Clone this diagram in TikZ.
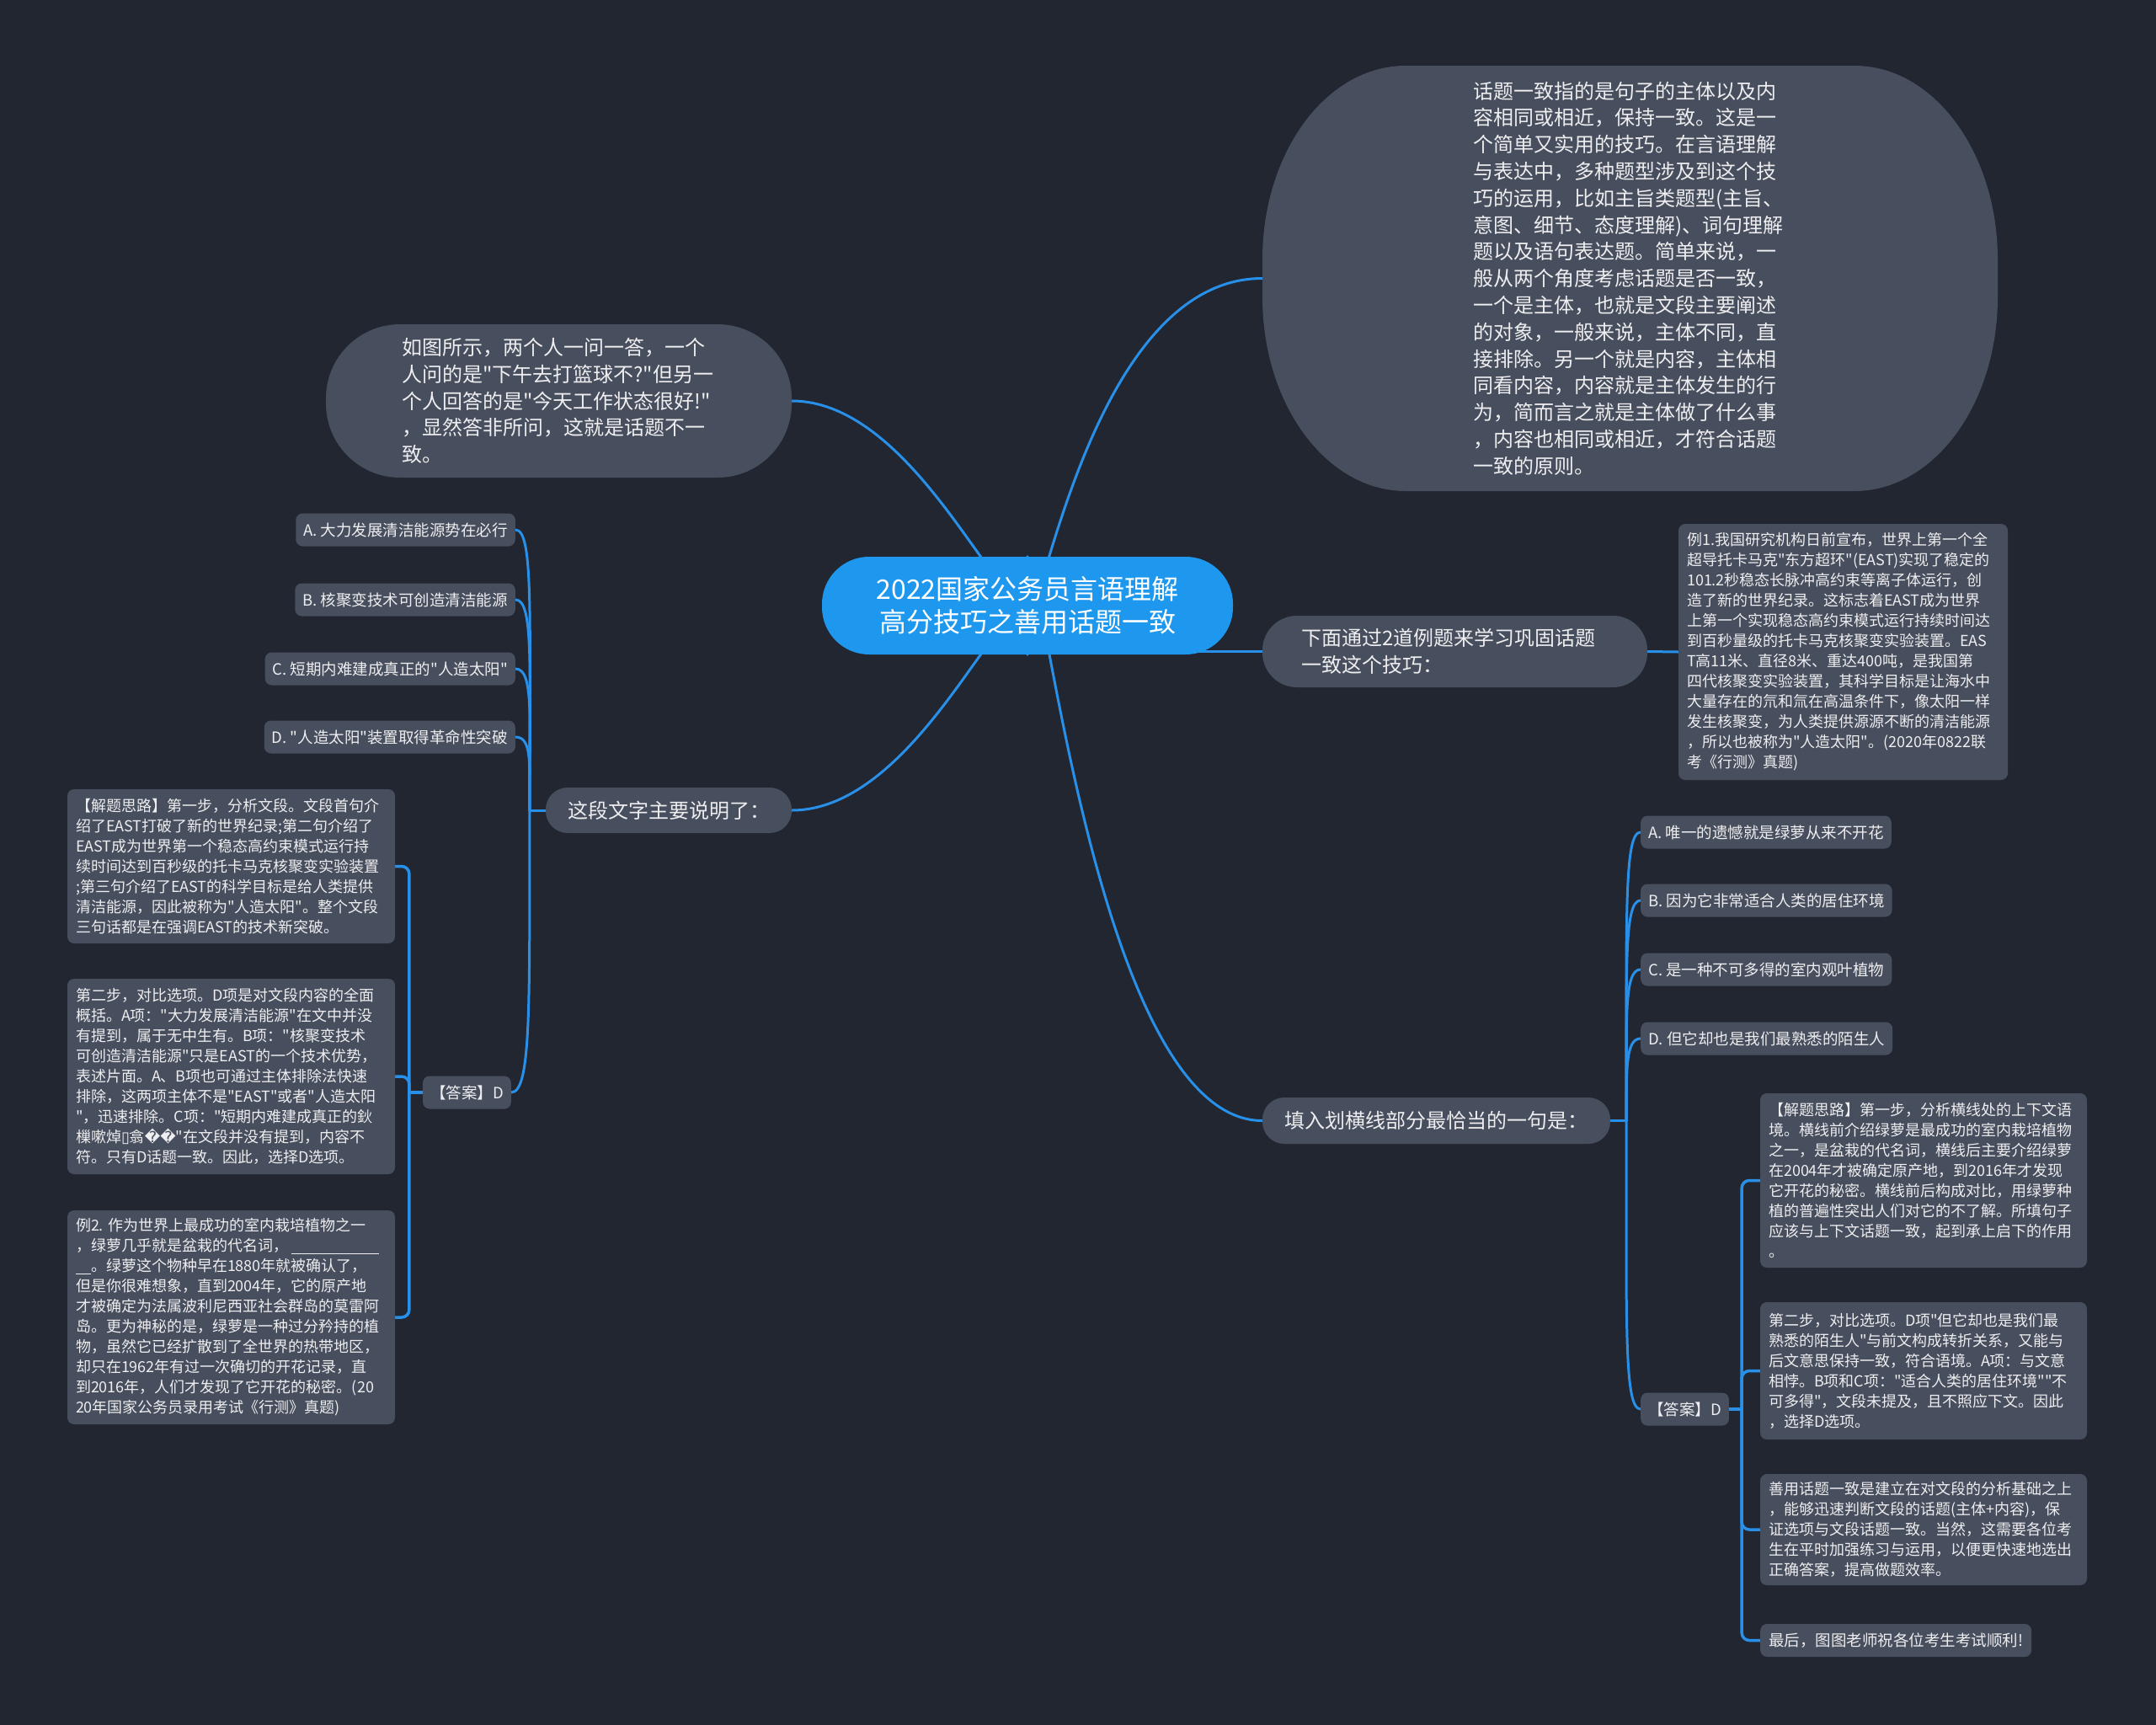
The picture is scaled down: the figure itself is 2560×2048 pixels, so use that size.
\documentclass[tikz,border=0pt]{standalone}
\usepackage{fontspec}
\newfontfamily\cjk{Noto Sans CJK SC}
\newfontfamily\djv{DejaVu Sans}
\usetikzlibrary{calc}
\definecolor{bgc}{RGB}{34,38,49}
\definecolor{nodec}{RGB}{71,78,93}
\definecolor{bluec}{RGB}{30,152,238}
\definecolor{linec}{RGB}{40,144,232}
\definecolor{txtc}{RGB}{238,238,240}
\pgfdeclarelayer{bglayer}
\pgfdeclarelayer{edgelayer}
\pgfdeclarelayer{shapelayer}
\pgfsetlayers{bglayer,edgelayer,shapelayer,main}
\begin{document}
\begin{tikzpicture}[x=1pt,y=-1pt,
  every node/.style={text=txtc, inner ysep=0pt},
  titlenode/.style={fill=bluec, rounded corners=56pt, minimum width=488pt, minimum height=116pt, align=center, font={\cjk\fontsize{32}{39}\selectfont}, text=white},
  bignode/.style={fill=nodec, align=left, font={\cjk\fontsize{24}{31.8}\selectfont}},
  smallnode/.style={fill=nodec, rounded corners=8pt, align=left, font={\cjk\fontsize{18}{24}\selectfont}, inner xsep=10pt},
  optnode/.style={fill=nodec, rounded corners=8pt, font={\cjk\fontsize{18.5}{24}\selectfont}, minimum height=39pt, inner xsep=9pt},
  curve/.style={draw=linec, line width=3pt, line cap=round},
  bracket/.style={draw=linec, line width=3.5pt, rounded corners=9pt, line cap=round},
]
\useasboundingbox (0,0) rectangle (2560,2048);
\begin{pgfonlayer}{bglayer}
\fill[bgc] (0,0) rectangle (2560,2048);
\end{pgfonlayer}

% center
\node[titlenode] (c) at (1220,719) {2022国家公务员言语理解\\高分技巧之善用话题一致};

% top right large (shape drawn separately)
\node[bignode, fill=none, text width=372pt, inner xsep=250.5pt, minimum height=505pt] (big) at (1935.5,330.5) {话题一致指的是句子的主体以及内\\容相同或相近，保持一致。这是一\\个简单又实用的技巧。在言语理解\\与表达中，多种题型涉及到这个技\\巧的运用，比如主旨类题型(主旨、\\意图、细节、态度理解)、词句理解\\题以及语句表达题。简单来说，一\\般从两个角度考虑话题是否一致，\\一个是主体，也就是文段主要阐述\\的对象，一般来说，主体不同，直\\接排除。另一个就是内容，主体相\\同看内容，内容就是主体发生的行\\为，简而言之就是主体做了什么事\\，内容也相同或相近，才符合话题\\一致的原则。};
\begin{pgfonlayer}{shapelayer}
\fill[nodec] (1669,78) -- (2202,78) .. controls (2296,78) and (2372,181) .. (2372,308) -- (2372,353) .. controls (2372,480) and (2296,583) .. (2202,583) -- (1669,583) .. controls (1575,583) and (1499,480) .. (1499,353) -- (1499,308) .. controls (1499,181) and (1575,78) .. (1669,78) -- cycle;
\end{pgfonlayer}

% top left pill
\node[bignode, rounded corners=88pt, text width=373pt, inner xsep=90pt, minimum height=182pt] (q) at (663.5,476) {如图所示，两个人一问一答，一个\\人问的是"下午去打篮球不?"但另一\\个人回答的是"今天工作状态很好!"\\，显然答非所问，这就是话题不一\\致。};

% right middle pill
\node[bignode, rounded corners=41pt, text width=365pt, inner xsep=46pt, minimum height=85pt] (p2) at (1727.5,773.5) {下面通过2道例题来学习巩固话题\\一致这个技巧：};

\node[smallnode, text width=371pt, minimum height=304pt] (ex1) at (2188.5,774) {例1.我国研究机构日前宣布，世界上第一个全\\超导托卡马克"东方超环"(EAST)实现了稳定的\\101.2秒稳态长脉冲高约束等离子体运行，创\\造了新的世界纪录。这标志着EAST成为世界\\上第一个实现稳态高约束模式运行持续时间达\\到百秒量级的托卡马克核聚变实验装置。EAS\\T高11米、直径8米、重达400吨，是我国第\\四代核聚变实验装置，其科学目标是让海水中\\大量存在的氘和氚在高温条件下，像太阳一样\\发生核聚变，为人类提供源源不断的清洁能源\\，所以也被称为"人造太阳"。(2020年0822联\\考《行测》真题)};

% left branch
\node[bignode, rounded corners=26pt, text width=240pt, inner xsep=26pt, minimum height=54pt] (p3) at (794,962) {这段文字主要说明了：};

\node[optnode, anchor=east] (la) at (612,629) {A. 大力发展清洁能源势在必行};
\node[optnode, anchor=east] (lb) at (612,712) {B. 核聚变技术可创造清洁能源};
\node[optnode, anchor=east] (lc) at (612,794) {C. 短期内难建成真正的"人造太阳"};
\node[optnode, anchor=east] (ld) at (612,875) {D. "人造太阳"装置取得革命性突破};
\node[optnode, anchor=east] (ans1) at (607,1297) {【答案】D};

\node[smallnode, text width=369pt, minimum height=183pt] (l1) at (274.5,1028.5) {【解题思路】第一步，分析文段。文段首句介\\绍了EAST打破了新的世界纪录;第二句介绍了\\EAST成为世界第一个稳态高约束模式运行持\\续时间达到百秒级的托卡马克核聚变实验装置\\;第三句介绍了EAST的科学目标是给人类提供\\清洁能源，因此被称为"人造太阳"。整个文段\\三句话都是在强调EAST的技术新突破。};
\node[smallnode, text width=369pt, minimum height=232pt] (l2) at (274.5,1278) {第二步，对比选项。D项是对文段内容的全面\\概括。A项："大力发展清洁能源"在文中并没\\有提到，属于无中生有。B项："核聚变技术\\可创造清洁能源"只是EAST的一个技术优势，\\表述片面。A、B项也可通过主体排除法快速\\排除，这两项主体不是"EAST"或者"人造太阳\\"，迅速排除。C项："短期内难建成真正的鈥\\樔嗽焯{\djv ▯}翕{\djv ��}"在文段并没有提到，内容不\\符。只有D话题一致。因此，选择D选项。};
\node[smallnode, text width=369pt, minimum height=254pt] (l3) at (274.5,1564) {例2.~作为世界上最成功的室内栽培植物之一\\，绿萝几乎就是盆栽的代名词，\hspace{4pt}\rule[-3pt]{104pt}{1.3pt}\\\rule[-3pt]{18pt}{1.3pt}。绿萝这个物种早在1880年就被确认了，\\但是你很难想象，直到2004年，它的原产地\\才被确定为法属波利尼西亚社会群岛的莫雷阿\\岛。更为神秘的是，绿萝是一种过分矜持的植\\物，虽然它已经扩散到了全世界的热带地区，\\却只在1962年有过一次确切的开花记录，直\\到2016年，人们才发现了它开花的秘密。(20\\20年国家公务员录用考试《行测》真题)};

% right lower branch
\node[bignode, rounded corners=26pt, text width=360pt, inner xsep=26.5pt, minimum height=55pt] (p4) at (1705.5,1330.5) {填入划横线部分最恰当的一句是：};

\node[optnode, anchor=west] (ra) at (1948,988) {A. 唯一的遗憾就是绿萝从来不开花};
\node[optnode, anchor=west] (rb) at (1948,1069) {B. 因为它非常适合人类的居住环境};
\node[optnode, anchor=west] (rc) at (1948,1151) {C. 是一种不可多得的室内观叶植物};
\node[optnode, anchor=west] (rd) at (1948,1233) {D. 但它却也是我们最熟悉的陌生人};
\node[optnode, anchor=west] (ans2) at (1948,1673) {【答案】D};

\node[smallnode, text width=368pt, minimum height=207pt] (r1) at (2284,1401.5) {【解题思路】第一步，分析横线处的上下文语\\境。横线前介绍绿萝是最成功的室内栽培植物\\之一，是盆栽的代名词，横线后主要介绍绿萝\\在2004年才被确定原产地，到2016年才发现\\它开花的秘密。横线前后构成对比，用绿萝种\\植的普遍性突出人们对它的不了解。所填句子\\应该与上下文话题一致，起到承上启下的作用\\。};
\node[smallnode, text width=368pt, minimum height=163pt] (r2) at (2284,1627.5) {第二步，对比选项。D项"但它却也是我们最\\熟悉的陌生人"与前文构成转折关系，又能与\\后文意思保持一致，符合语境。A项：与文意\\相悖。B项和C项："适合人类的居住环境""不\\可多得"，文段未提及，且不照应下文。因此\\，选择D选项。};
\node[smallnode, text width=368pt, minimum height=132pt] (r3) at (2284,1816) {善用话题一致是建立在对文段的分析基础之上\\，能够迅速判断文段的话题(主体+内容)，保\\证选项与文段话题一致。当然，这需要各位考\\生在平时加强练习与运用，以便更快速地选出\\正确答案，提高做题效率。};
\node[optnode, anchor=west, inner xsep=10pt] (r4) at (2090,1947.5) {最后，图图老师祝各位考生考试顺利!};

\coordinate (t3) at ($(p3.west)+(-19,0)$);
\coordinate (t4) at ($(p4.east)+(19,0)$);
\coordinate (a1) at ($(ans1.west)+(-16,0)$);
\coordinate (a2) at ($(ans2.east)+(15,0)$);

\begin{pgfonlayer}{edgelayer}
\draw[curve] (c.north) to[out=-90,in=180,looseness=1.4] (big.west);
\draw[curve] (c.north) to[out=-90,in=0,looseness=1.3] (q.east);
\draw[curve] (c.center |- p2.west) -- (p2.west);
\draw[curve] (p2.east) -- (ex1.west);
\draw[curve] (c.south) to[out=90,in=0,looseness=1.3] (p3.east);
\draw[curve] (c.south) to[out=90,in=180,out distance=380pt,in distance=230pt] (p4.west);
% left options
\draw[curve] (p3.west) -- (t3);
\draw[curve] (t3) .. controls +(0,-230) and +(22,0) .. (la.east);
\draw[curve] (t3) .. controls +(0,-170) and +(22,0) .. (lb.east);
\draw[curve] (t3) .. controls +(0,-110) and +(22,0) .. (lc.east);
\draw[curve] (t3) .. controls +(0,-55) and +(20,0) .. (ld.east);
\draw[curve] (t3) .. controls +(0,230) and +(24,0) .. (ans1.east);
% right options
\draw[curve] (p4.east) -- (t4);
\draw[curve] (t4) .. controls +(0,-240) and +(-20,0) .. (ra.west);
\draw[curve] (t4) .. controls +(0,-180) and +(-20,0) .. (rb.west);
\draw[curve] (t4) .. controls +(0,-120) and +(-20,0) .. (rc.west);
\draw[curve] (t4) .. controls +(0,-60) and +(-18,0) .. (rd.west);
\draw[curve] (t4) .. controls +(0,240) and +(-20,0) .. (ans2.west);
% brackets
\draw[bracket] (ans1.west) -- (a1);
\draw[bracket] (a1) |- (l1.east);
\draw[bracket] (a1) |- (l2.east);
\draw[bracket] (a1) |- (l3.east);
\draw[bracket] (ans2.east) -- (a2);
\draw[bracket] (a2) |- (r1.west);
\draw[bracket] (a2) |- (r2.west);
\draw[bracket] (a2) |- (r3.west);
\draw[bracket] (a2) |- (r4.west);
\end{pgfonlayer}
\end{tikzpicture}
\end{document}
